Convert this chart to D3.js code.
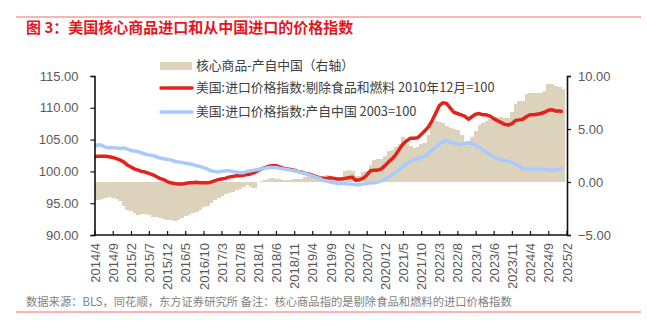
<!DOCTYPE html>
<html>
<head>
<meta charset="utf-8">
<script src="https://cdn.jsdelivr.net/npm/d3@7"></script>
<style>
  html, body { margin: 0; padding: 0; background: #fff; }
  svg { display: block; font-family: "Liberation Sans", "Noto Sans CJK SC", sans-serif; }
</style>
</head>
<body>
<script>
// monthly series, 2014/4 .. 2025/1
const coreImport = [
  102.3, 102.4, 102.4, 102.4, 102.3, 102.2, 102.0, 101.8, 101.5, 101.0,
  100.7, 100.4, 100.2, 100.0, 99.9, 99.7, 99.5, 99.2, 98.9, 98.7,
  98.4, 98.2, 98.1, 98.0, 98.0, 98.1, 98.2, 98.2, 98.3, 98.2,
  98.2, 98.2, 98.3, 98.5, 98.7, 98.8, 98.9, 99.1, 99.2, 99.3,
  99.3, 99.4, 99.5, 99.6, 99.8, 100.1, 100.4, 100.6, 100.8, 100.9,
  100.9, 100.7, 100.5, 100.4, 100.3, 100.2, 100.0, 99.9, 99.7, 99.6,
  99.4, 99.2, 99.0, 98.9, 98.9, 99.0, 98.9, 98.8, 98.8, 98.9,
  99.0, 99.1, 98.6, 98.7, 98.9, 99.4, 100.1, 100.2, 100.2, 100.4,
  100.9, 101.5, 102.0, 102.6, 103.5, 104.3, 104.8, 105.2, 105.2, 105.3,
  105.8, 106.4, 107.0, 108.0, 109.2, 110.3, 110.8, 110.7, 110.0, 109.3,
  109.1, 108.9, 108.7, 108.2, 108.6, 109.0, 109.1, 108.9, 108.9, 108.7,
  108.3, 108.0, 107.7, 107.4, 107.3, 107.5, 108.0, 108.1, 108.2, 108.6,
  108.9, 108.9, 109.0, 109.1, 109.3, 109.6, 109.7, 109.5, 109.5, 109.4
];

const chinaImport = [
  103.9, 104.2, 104.1, 103.8, 103.7, 103.7, 103.7, 103.6, 103.7, 103.5,
  103.3, 103.2, 103.1, 102.9, 102.7, 102.6, 102.5, 102.3, 102.1, 102.0,
  101.9, 101.8, 101.6, 101.5, 101.4, 101.3, 101.2, 101.1, 100.9, 100.8,
  100.6, 100.4, 100.1, 100.0, 99.9, 100.0, 100.1, 100.1, 100.0, 99.9,
  99.8, 99.8, 100.0, 100.1, 100.2, 100.3, 100.4, 100.5, 100.6, 100.6,
  100.6, 100.5, 100.4, 100.3, 100.2, 100.1, 100.0, 99.8, 99.7, 99.5,
  99.3, 99.1, 98.9, 98.6, 98.5, 98.3, 98.2, 98.1, 98.1, 98.1,
  98.0, 98.0, 97.9, 97.9, 98.0, 98.1, 98.2, 98.2, 98.3, 98.5,
  98.8, 99.1, 99.5, 99.9, 100.3, 100.8, 101.2, 101.6, 101.8, 102.0,
  102.2, 102.4, 102.9, 103.4, 103.8, 104.3, 104.7, 104.9, 104.6, 104.4,
  104.3, 104.2, 104.4, 104.5, 104.4, 104.1, 103.8, 103.4, 103.0, 102.6,
  102.3, 102.0, 101.8, 101.7, 101.6, 101.4, 101.1, 100.8, 100.5, 100.4,
  100.3, 100.3, 100.3, 100.3, 100.3, 100.25, 100.2, 100.2, 100.3, 100.5
];

// core goods minus made-in-China, right axis
const coreMinusChina = [
  -1.6, -1.7, -1.6, -1.5, -1.4, -1.5, -1.6, -1.8, -2.3, -2.6,
  -2.7, -2.9, -3.1, -3.0, -3.0, -3.1, -3.3, -3.3, -3.4, -3.5,
  -3.6, -3.6, -3.7, -3.6, -3.4, -3.2, -3.1, -2.9, -2.8, -2.6,
  -2.4, -2.3, -2.0, -1.7, -1.5, -1.3, -1.1, -1.0, -0.9, -0.8,
  -0.7, -0.5, -0.3, -0.5, -0.6, 0.0, 0.1, 0.2, 0.3, 0.35,
  0.3, 0.25, 0.2, 0.2, 0.2, 0.25, 0.3, 0.3, 0.5, 0.7,
  0.7, 0.6, 0.6, 0.6, 0.7, 0.4, 0.3, 0.3, 0.4, 1.0,
  1.1, 1.0, 0.6, 0.6, 0.9, 1.0, 1.6, 2.1, 2.2, 2.2,
  2.5, 2.9, 3.0, 3.3, 3.6, 4.2, 3.6, 3.4, 3.2, 3.3,
  3.6, 3.7, 4.4, 5.7, 5.8, 5.7, 5.6, 5.3, 5.1, 5.0,
  4.9, 4.4, 3.8, 3.9, 4.2, 4.8, 5.4, 5.6, 5.8, 5.9,
  6.1, 6.1, 6.1, 6.0, 6.0, 6.6, 7.4, 7.6, 7.6, 8.3,
  8.4, 8.4, 8.4, 8.4, 8.6, 9.2, 9.2, 9.1, 9.0, 8.8
];

const tickLabels = [
  "2014/4", "2014/9", "2015/2", "2015/7", "2015/12", "2016/5", "2016/10",
  "2017/3", "2017/8", "2018/1", "2018/6", "2018/11", "2019/4", "2019/9",
  "2020/2", "2020/7", "2020/12", "2021/5", "2021/10", "2022/3", "2022/8",
  "2023/1", "2023/6", "2023/11", "2024/4", "2024/9", "2025/2"
];

const leftTicks = [90, 95, 100, 105, 110, 115];
const rightTicks = [-5, 0, 5, 10];

const titleText = "图 3：美国核心商品进口和从中国进口的价格指数";
const legendNames = [
  "核心商品-产自中国（右轴）",
  "美国:进口价格指数:剔除食品和燃料 2010年12月=100",
  "美国:进口价格指数:产自中国 2003=100"
];
const sourceText = "数据来源：BLS，同花顺，东方证券研究所 备注：核心商品指的是剔除食品和燃料的进口价格指数";

const W = 647, H = 331;
const RED = "#e3231b", BLUE = "#a9caff", TAN = "#ddd3bd", RULE = "#ee6a66";

const svg = d3.select("body").append("svg")
  .attr("width", W)
  .attr("height", H);

const parseMonth = d3.timeParse("%Y/%m");
const firstMonth = parseMonth(tickLabels[0]);
const lastTick = parseMonth(tickLabels[tickLabels.length - 1]);
const months = d3.range(coreImport.length).map(i => d3.timeMonth.offset(firstMonth, i));

const x = d3.scaleTime().domain([firstMonth, lastTick]).range([94.5, 566.5]);
const yL = d3.scaleLinear().domain([90, 115]).range([235, 76]);
const yR = d3.scaleLinear().domain([-5, 10]).range([235, 76]);
const step = x(months[1]) - x(months[0]);

// header and footer rules
svg.append("line").attr("x1", 16).attr("x2", 641).attr("y1", 17).attr("y2", 17)
  .attr("stroke", RULE).attr("stroke-width", 1);
svg.append("line").attr("x1", 16).attr("x2", 641).attr("y1", 312).attr("y2", 312)
  .attr("stroke", RULE).attr("stroke-width", 1);

svg.append("text")
  .attr("x", 26).attr("y", 33)
  .attr("font-family", "'Noto Sans CJK SC', sans-serif")
  .attr("font-size", 15).attr("font-weight", "bold")
  .attr("fill", "#e5161e")
  .text(titleText);

svg.append("text")
  .attr("x", 26).attr("y", 306)
  .attr("font-family", "'Noto Sans CJK SC', sans-serif")
  .attr("font-size", 11.3).attr("fill", "#7f7f7f")
  .text(sourceText);

// bars, slightly overlapped so neighbours join without seams
const plot = svg.append("g");
const barLeft = i => Math.max(94.5, x(months[i]) - step / 2);
plot.selectAll("rect.diff")
  .data(coreMinusChina)
  .enter().append("rect")
  .attr("class", "diff")
  .attr("x", (d, i) => barLeft(i))
  .attr("width", (d, i) => x(months[i]) + step / 2 + 0.7 - barLeft(i))
  .attr("y", d => Math.min(yR(d), yR(0)))
  .attr("height", d => Math.abs(yR(d) - yR(0)))
  .attr("fill", TAN)
  .attr("shape-rendering", "crispEdges");

const lineL = d3.line()
  .x((d, i) => x(months[i]))
  .y(d => yL(d));

plot.append("path").datum(coreImport)
  .attr("d", lineL).attr("fill", "none")
  .attr("stroke", RED).attr("stroke-width", 3.5).attr("stroke-linejoin", "round");

plot.append("path").datum(chinaImport)
  .attr("d", lineL).attr("fill", "none")
  .attr("stroke", BLUE).attr("stroke-width", 3.5).attr("stroke-linejoin", "round");

// axes
const fmt = d3.format(".2f");

const axL = svg.append("g").attr("transform", "translate(94.5,0)")
  .call(d3.axisLeft(yL).tickValues(leftTicks).tickFormat(fmt).tickSize(4).tickPadding(12));
const axR = svg.append("g").attr("transform", "translate(567,0)")
  .call(d3.axisRight(yR).tickValues(rightTicks).tickFormat(fmt).tickSize(4).tickPadding(7));
const axB = svg.append("g").attr("transform", "translate(0,235)")
  .call(d3.axisBottom(x).tickValues(tickLabels.map(parseMonth)).tickFormat((d, i) => tickLabels[i]).tickSize(-4));

[axL, axR, axB].forEach(ax => {
  ax.select(".domain").attr("stroke", "#111").attr("stroke-width", 1.6);
  ax.selectAll(".tick line").attr("stroke", "#111").attr("stroke-width", 1.2);
  ax.selectAll("text").attr("font-size", 13).attr("fill", "#595959")
    .attr("font-family", "'Liberation Sans', sans-serif");
});
axB.select(".domain").attr("d", "M94.5,0H567");
axB.selectAll(".tick text")
  .attr("transform", "rotate(-90)")
  .attr("text-anchor", "end")
  .attr("x", -8).attr("y", 0).attr("dy", "0.35em");

// legend
const lg = svg.append("g").attr("font-size", 12.8).attr("fill", "#404040")
  .attr("font-family", "'Noto Sans CJK SC', sans-serif");
lg.append("rect").attr("x", 160).attr("y", 62).attr("width", 32).attr("height", 8).attr("fill", TAN);
lg.append("line").attr("x1", 161).attr("x2", 192).attr("y1", 88).attr("y2", 88)
  .attr("stroke", RED).attr("stroke-width", 3.5).attr("stroke-linecap", "round");
lg.append("line").attr("x1", 161).attr("x2", 192).attr("y1", 112).attr("y2", 112)
  .attr("stroke", BLUE).attr("stroke-width", 3.5).attr("stroke-linecap", "round");
lg.selectAll("text.name")
  .data(legendNames)
  .enter().append("text")
  .attr("class", "name")
  .attr("x", 196)
  .attr("y", (d, i) => [66, 88, 112][i])
  .attr("dy", "0.35em")
  .text(d => d);
</script>
</body>
</html>
